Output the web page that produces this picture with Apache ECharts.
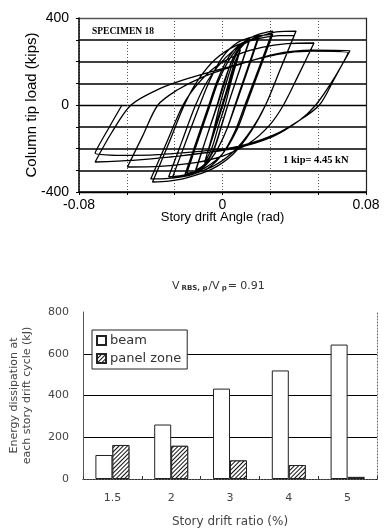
<!DOCTYPE html>
<html>
<head>
<meta charset="utf-8">
<script src="https://cdn.jsdelivr.net/npm/echarts@6/dist/echarts.min.js"></script>
<style>
html,body{margin:0;padding:0;background:#fff;}
#c{width:385px;height:532px;}
</style>
</head>
<body>
<div id="c"></div>
<script>
// ---- Top chart: hysteresis (story drift angle [rad], column tip load [kips]) ----
const hysteresis = [
[0,0],[0.0038,100],[0.0006,12],[-0.0038,-98],[-0.0006,-12],
[0.005,132],[0.0009,20],[-0.005,-130],[-0.0009,-20],
[0.0075,198],[0.0016,35],[-0.0075,-200],[-0.0016,-35],
[0.002,60],[0.006,175],[0.01,255],[0.0055,130],[0.0015,0],[-0.002,-90],[-0.006,-200],[-0.01,-265],[-0.0055,-135],[-0.0015,0],
[0.002,100],[0.006,200],[0.01,265],[0.015,300],[0.009,150],[0.003,0],[-0.001,-110],[-0.005,-210],[-0.01,-275],[-0.015,-305],[-0.009,-150],[-0.0028,0],
[0.001,100],[0.005,200],[0.01,268],[0.015,295],[0.009,148],[0.003,0],[-0.001,-105],[-0.005,-205],[-0.01,-272],[-0.015,-300],[-0.009,-150],[-0.003,0],
[0.001,110],[0.006,215],[0.012,280],[0.017,305],[0.02,315],[0.0135,158],[0.007,0],[0.002,-120],[-0.004,-220],[-0.01,-280],[-0.016,-310],[-0.021,-322],[-0.0143,-161],[-0.0076,0],
[-0.003,110],[0.003,215],[0.009,275],[0.015,298],[0.02,305],[0.0137,152],[0.0073,0],[0.002,-120],[-0.004,-220],[-0.01,-282],[-0.015,-305],[-0.02,-315],[-0.0134,-157],[-0.0069,0],
[-0.002,115],[0.005,225],[0.012,290],[0.02,325],[0.028,340],[0.0203,170],[0.0125,0],[0.007,-120],[0,-225],[-0.008,-290],[-0.018,-322],[-0.028,-336],[-0.0204,-168],[-0.0127,0],
[-0.007,115],[0,220],[0.008,285],[0.018,315],[0.028,325],[0.0206,162],[0.0133,0],[0.008,-115],[0,-225],[-0.01,-290],[-0.02,-320],[-0.03,-330],[-0.0225,-165],[-0.015,0],
[-0.008,115],[0.002,220],[0.012,285],[0.022,318],[0.03,336],[0.041,340],[0.0325,170],[0.024,0],[0.016,-120],[0.006,-225],[-0.006,-295],[-0.02,-335],[-0.03,-350],[-0.039,-354],[-0.030,-177],[-0.0213,0],
[-0.014,110],[-0.004,210],[0.008,275],[0.02,305],[0.03,318],[0.04,320],[0.032,160],[0.024,0],[0.016,-115],[0.006,-215],[-0.006,-285],[-0.02,-325],[-0.03,-337],[-0.04,-340],[-0.031,-170],[-0.022,0],
[-0.014,95],[-0.004,175],[0.008,230],[0.022,265],[0.036,282],[0.051,285],[0.0426,142],[0.034,0],[0.026,-95],[0.015,-175],[0,-235],[-0.015,-265],[-0.035,-282],[-0.053,-285],[-0.0445,-142],[-0.036,0],
[-0.025,70],[-0.012,125],[0.005,175],[0.03,235],[0.05,252],[0.071,250],[0.062,120],[0.052,0],[0.043,-70],[0.028,-145],[0.006,-200],[-0.03,-240],[-0.05,-255],[-0.071,-262],[-0.062,-130],[-0.051,0],
[-0.035,75],[-0.02,120],[0.002,172],[0.03,232],[0.05,248],[0.07,240],[0.062,115],[0.054,0],[0.043,-70],[0.028,-140],[0.006,-195],[-0.03,-225],[-0.05,-232],[-0.071,-221],[-0.063,-100],[-0.056,0]
];
const topXTicks = [-0.08, 0, 0.08];
const topYTicks = [-400, 0, 400];

// ---- Bottom chart: energy dissipation (kJ) ----
const driftRatios = ['1.5', '2', '3', '4', '5'];
const beamEnergy = [115, 261, 433, 520, 644];
const panelZoneEnergy = [163, 159, 89, 67, 10];
const energyTicks = [0, 200, 400, 600, 800];

const SANS = "'Liberation Sans', Arial, sans-serif";
const THIN = "'DejaVu Sans', sans-serif";

const chart = echarts.init(document.getElementById('c'), null, {renderer: 'canvas'});
chart.setOption({
  animation: false,
  backgroundColor: '#fff',
  title: {
    left: 167, top: 271,
    text: '{a|V}{s|RBS, p}{a|/V}{s|p}{a|= 0.91}',
    textStyle: {
      fontWeight: 'normal',
      rich: {
        a: {fontFamily: THIN, fontSize: 11, fontWeight: 'normal', color: '#333', lineHeight: 16, verticalAlign: 'bottom'},
        s: {fontFamily: THIN, fontSize: 7, fontWeight: 'bold', color: '#333', lineHeight: 12, verticalAlign: 'bottom', padding: [0, 1, 0, 2]}
      }
    }
  },
  legend: {
    data: ['beam', 'panel zone'],
    orient: 'vertical',
    left: 92, top: 330,
    itemWidth: 9, itemHeight: 9, itemGap: 5,
    padding: [4, 6, 4, 4],
    borderColor: '#222', borderWidth: 1, backgroundColor: '#fff',
    textStyle: {fontFamily: THIN, fontSize: 13, color: '#333', padding: [0, 0, 0, -1]},
    icon: 'rect'
  },
  grid: [
    {left: 79, top: 18, width: 287, height: 174},
    {left: 83, top: 312, width: 294, height: 167}
  ],
  xAxis: [
    {
      gridIndex: 0, type: 'value',
      min: topXTicks[0], max: topXTicks[2], interval: 0.08,
      axisLine: {show: true, onZero: false, lineStyle: {color: '#000', width: 1.5}},
      axisTick: {show: true, length: 3, lineStyle: {color: '#000'}},
      minorTick: {show: true, splitNumber: 3, length: 3, lineStyle: {color: '#000'}},
      axisLabel: {fontFamily: SANS, fontSize: 14, color: '#000', margin: 6,
        formatter: v => v === 0 ? '0' : v.toFixed(2)},
      splitLine: {show: true, lineStyle: {color: '#555', type: [1, 2], width: 1}},
      minorSplitLine: {show: true, lineStyle: {color: '#555', type: [1, 2], width: 1}},
      name: 'Story drift Angle (rad)', nameLocation: 'middle', nameGap: 19,
      nameMoveOverlap: false,
      nameTextStyle: {fontFamily: SANS, fontSize: 13, color: '#000'}
    },
    {
      gridIndex: 1, type: 'category', data: driftRatios,
      axisLine: {show: true, lineStyle: {color: '#111', width: 1.2}},
      axisTick: {show: true, inside: true, length: 3, lineStyle: {color: '#333'}},
      axisLabel: {fontFamily: THIN, fontSize: 11, color: '#444', margin: 14},
      splitLine: {show: false},
      name: 'Story drift ratio (%)', nameLocation: 'middle', nameGap: 37,
      nameMoveOverlap: false,
      nameTextStyle: {fontFamily: THIN, fontSize: 12, color: '#444'}
    },
    {
      gridIndex: 1, type: 'category', data: driftRatios, position: 'top',
      axisLine: {show: true, lineStyle: {color: '#666', type: [1, 2], width: 1}},
      axisTick: {show: false}, axisLabel: {show: false}, splitLine: {show: false}
    }
  ],
  yAxis: [
    {
      gridIndex: 0, type: 'value',
      min: topYTicks[0], max: topYTicks[2], interval: 400,
      axisLine: {show: true, onZero: false, lineStyle: {color: '#000', width: 1.5}},
      axisTick: {show: true, length: 3, lineStyle: {color: '#000'}},
      minorTick: {show: true, splitNumber: 4, length: 3, lineStyle: {color: '#000'}},
      axisLabel: {fontFamily: SANS, fontSize: 14, color: '#000', margin: 10},
      splitLine: {show: true, lineStyle: {color: ['#000', '#000', '#555'], width: 1.3}},
      minorSplitLine: {show: true, lineStyle: {color: '#000', width: 1.5}},
      name: 'Column tip load (kips)', nameLocation: 'middle', nameGap: 40,
      nameMoveOverlap: false,
      nameTextStyle: {fontFamily: SANS, fontSize: 15, color: '#000'}
    },
    {
      gridIndex: 0, type: 'value', position: 'right',
      min: topYTicks[0], max: topYTicks[2], interval: 400,
      axisLine: {show: true, onZero: false, lineStyle: {color: '#222', width: 1.2}},
      axisTick: {show: false}, axisLabel: {show: false}, splitLine: {show: false}
    },
    {
      gridIndex: 1, type: 'value',
      min: energyTicks[0], max: energyTicks[energyTicks.length - 1], interval: 200,
      axisLine: {show: true, lineStyle: {color: '#555', width: 1}},
      axisTick: {show: false},
      axisLabel: {fontFamily: THIN, fontSize: 11, color: '#444', margin: 14},
      splitLine: {show: true, lineStyle: {color: ['#000', '#000', '#000', '#000', 'rgba(0,0,0,0)'], width: 1.2}},
      name: 'Energy dissipation at\neach story drift cycle (kJ)', nameLocation: 'middle', nameGap: 49,
      nameMoveOverlap: false,
      nameTextStyle: {fontFamily: THIN, fontSize: 11, color: '#444', lineHeight: 13}
    },
    {
      gridIndex: 1, type: 'value', position: 'right',
      min: energyTicks[0], max: energyTicks[energyTicks.length - 1], interval: 200,
      axisLine: {show: true, lineStyle: {color: '#666', type: [1, 2], width: 1}},
      axisTick: {show: false}, axisLabel: {show: false}, splitLine: {show: false}
    }
  ],
  series: [
    {
      type: 'line', xAxisIndex: 0, yAxisIndex: 0,
      data: hysteresis, showSymbol: false, smooth: 0.3,
      lineStyle: {color: '#000', width: 1.3}, z: 5
    },
    {
      name: 'beam', type: 'bar', xAxisIndex: 1, yAxisIndex: 2,
      data: beamEnergy, barWidth: 17, barGap: '0%',
      itemStyle: {color: '#fff', borderColor: '#222', borderWidth: 1}
    },
    {
      name: 'panel zone', type: 'bar', xAxisIndex: 1, yAxisIndex: 2,
      data: panelZoneEnergy, barWidth: 17, barGap: '0%',
      itemStyle: {
        color: '#fff', borderColor: '#222', borderWidth: 1,
        decal: {symbol: 'rect', symbolSize: 1, dashArrayX: [1, 0], dashArrayY: [1, 2],
          rotation: -Math.PI / 4, color: '#111', backgroundColor: '#fff'}
      }
    }
  ],
  graphic: [
    {type: 'rect', shape: {x: 80, y: 20, width: 80, height: 18}, style: {fill: '#fff'}, z: 1},
    {type: 'text', x: 92, y: 32, style: {text: 'SPECIMEN 18', font: "bold 9.5px 'Liberation Serif', serif", fill: '#000', textVerticalAlign: 'middle'}, z: 10},
    {type: 'rect', shape: {x: 273, y: 150, width: 92, height: 20}, style: {fill: '#fff'}, z: 1},
    {type: 'text', x: 283, y: 160, style: {text: '1 kip= 4.45 kN', font: "bold 10.5px 'Liberation Serif', serif", fill: '#000', textVerticalAlign: 'middle'}, z: 10}
  ]
});
</script>
</body>
</html>
